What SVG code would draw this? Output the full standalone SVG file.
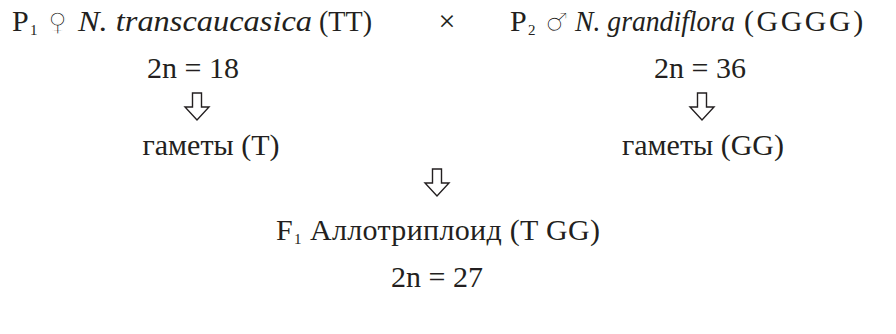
<svg xmlns="http://www.w3.org/2000/svg" width="896" height="334" viewBox="0 0 896 334">
<style>
text{font-family:"Liberation Serif","DejaVu Serif",serif;font-size:30px;fill:#231f20}
.c{text-anchor:middle}
.s{font-size:15px}
.i{font-style:italic}
.sym{font-family:"DejaVu Sans",sans-serif;font-size:26px;stroke:#fff;stroke-width:1.3}
.arr{fill:#fff;stroke:#231f20;stroke-width:1.4;stroke-linejoin:miter}
</style>
<defs>
<path id="ar" class="arr" d="M-4.5,0 H4.5 V14 H12 L0,27 L-12,14 H-4.5 Z"/>
</defs>
<g id="p1">
<text x="12" y="31">P</text>
<text class="s" x="30" y="35">1</text>
<text class="sym" x="48" y="31">♀</text>
<text class="i" x="78" y="31" textLength="234" lengthAdjust="spacingAndGlyphs">N. transcaucasica</text>
<text x="319" y="31" textLength="53" lengthAdjust="spacingAndGlyphs">(TT)</text>
<text class="c" x="193" y="78">2n = 18</text>
</g>
<g id="cross"><text class="c" x="447" y="31">×</text></g>
<g id="p2">
<text x="510" y="31">P</text>
<text class="s" x="528" y="35">2</text>
<text class="sym" x="545" y="31">♂</text>
<text class="i" x="575" y="31" textLength="160" lengthAdjust="spacingAndGlyphs">N. grandiflora</text>
<text x="744" y="31" letter-spacing="2.5">(GGGG)</text>
<text class="c" x="700" y="78">2n = 36</text>
</g>
<g id="g1"><text class="c" x="211" y="155">гаметы (T)</text></g>
<g id="g2"><text class="c" x="703" y="155">гаметы (GG)</text></g>
<g id="f1">
<text x="276" y="240">F</text>
<text class="s" x="294" y="244">1</text>
<text x="310" y="240" textLength="290" lengthAdjust="spacing">Аллотриплоид (T GG)</text>
<text class="c" x="437" y="287">2n = 27</text>
</g>
<g id="connectors">
<use href="#ar" x="197" y="93"/>
<use href="#ar" x="702" y="93"/>
<use href="#ar" x="437" y="169"/>
</g>
</svg>
